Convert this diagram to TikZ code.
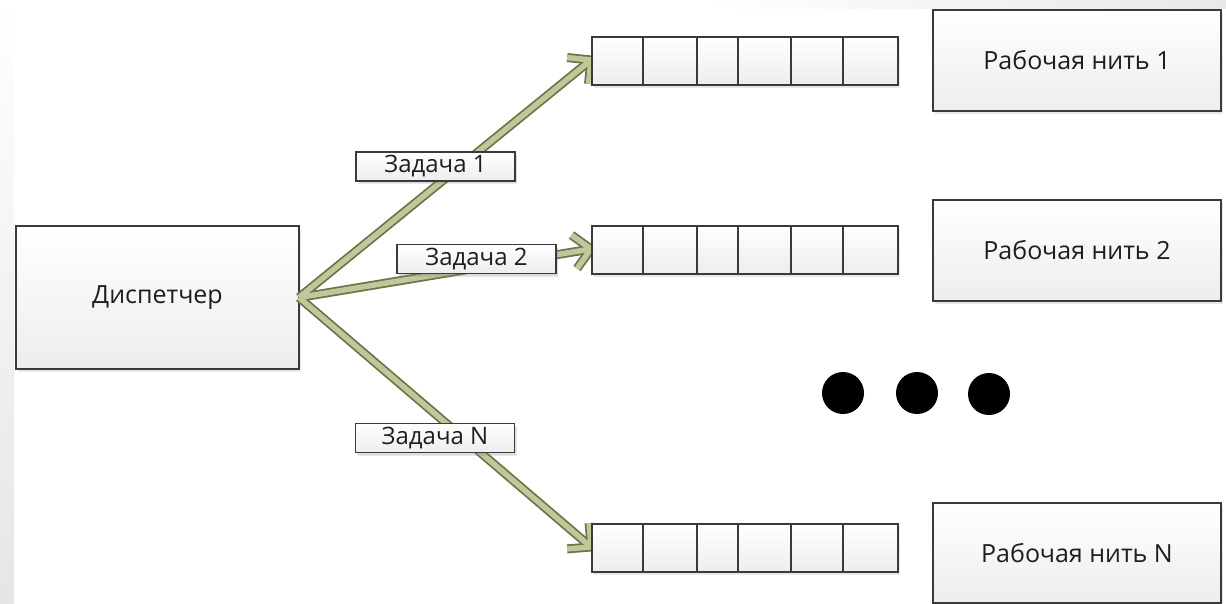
\documentclass[tikz,border=0pt]{standalone}
\usepackage{fontspec}
\setmainfont{Open Sans}
\usetikzlibrary{calc,shadows}

\definecolor{edge}{HTML}{3A3A3A}
\definecolor{olivedark}{HTML}{6A7446}
\definecolor{olivelight}{HTML}{C0C79A}
\definecolor{textgray}{HTML}{1E1E1E}

\begin{document}
\begin{tikzpicture}[x=1pt,y=-1pt,
  box/.style={draw=edge, line width=2pt, top color=white, bottom color=black!7,
    inner sep=0pt, anchor=north west, text=textgray,
    drop shadow={opacity=0.18, shadow xshift=2pt, shadow yshift=-3pt}},
  bigbox/.style={box, font=\fontsize{25}{30}\selectfont},
  qbox/.style={box, minimum width=306pt, minimum height=48pt},
  tasklabel/.style={box, line width=1.5pt, minimum width=159pt, minimum height=29pt,
    anchor=center, font=\fontsize{24}{28}\selectfont,
    drop shadow={opacity=0.12, shadow xshift=1.5pt, shadow yshift=-2pt}},
  cellline/.style={draw=edge, line width=2pt},
  arrout/.style={draw=olivedark, line width=9pt, line join=miter, line cap=butt},
  arrin/.style={draw=olivelight, line width=5.5pt, line join=miter, line cap=butt},
  dot/.style={fill=black, draw=none}]

\useasboundingbox (0,0) rectangle (1226,603);

% soft grey edges of the slide background
\shade[top color=white, bottom color=black!10] (0,0) rectangle (14,603);
\shade[left color=white, right color=black!9] (700,0) rectangle (1226,8);

% dispatcher
\node[bigbox, minimum width=283pt, minimum height=143pt] (disp) at (15,225) {Диспетчер};

% queue entry points (arrows are drawn first so the queues cover the tips)
\coordinate (q1w) at (591,60);
\coordinate (q2w) at (591,249);
\coordinate (qnw) at (591,547);
\coordinate (src) at ($(disp.east)+(-1,0)$);

% task arrows: dark outline pass, then light fill pass
\foreach \t in {q1w,q2w,qnw} {
  \draw[arrout] (src) -- (\t);
  \draw[arrout] ($(\t)!24pt!45:(src)$) -- (\t) -- ($(\t)!24pt!-45:(src)$);
}
\foreach \t in {q1w,q2w,qnw} {
  \draw[arrin] (src) -- (\t);
  \draw[arrin] ($(\t)!24pt!45:(src)$) -- (\t) -- ($(\t)!24pt!-45:(src)$);
}

% queues with their cells
\node[qbox] (q1) at (591,36) {};
\node[qbox] (q2) at (591,225) {};
\node[qbox] (qn) at (591,523) {};
\foreach \q in {q1,q2,qn} {
  \foreach \dx in {52,106,147,200,252}
    \draw[cellline] ($(\q.north west)+(\dx,0)$) -- ($(\q.south west)+(\dx,0)$);
}

% worker threads
\node[bigbox, minimum width=288pt, minimum height=101pt] (w1) at (932,9) {Рабочая нить 1};
\node[bigbox, minimum width=288pt, minimum height=101pt] (w2) at (932,199) {Рабочая нить 2};
\node[bigbox, minimum width=288pt, minimum height=100pt] (wn) at (932,502) {Рабочая нить N};

% task labels on the arrows
\node[tasklabel] (t1) at (435.5,166.5) {Задача 1};
\node[tasklabel] (t2) at (476.5,259) {Задача 2};
\node[tasklabel] (tn) at (435,438) {Задача N};

% ellipsis between workers
\fill[dot] (843,393) circle (21);
\fill[dot] (917,393) circle (21);
\fill[dot] (989,394) circle (21);

\end{tikzpicture}
\end{document}
